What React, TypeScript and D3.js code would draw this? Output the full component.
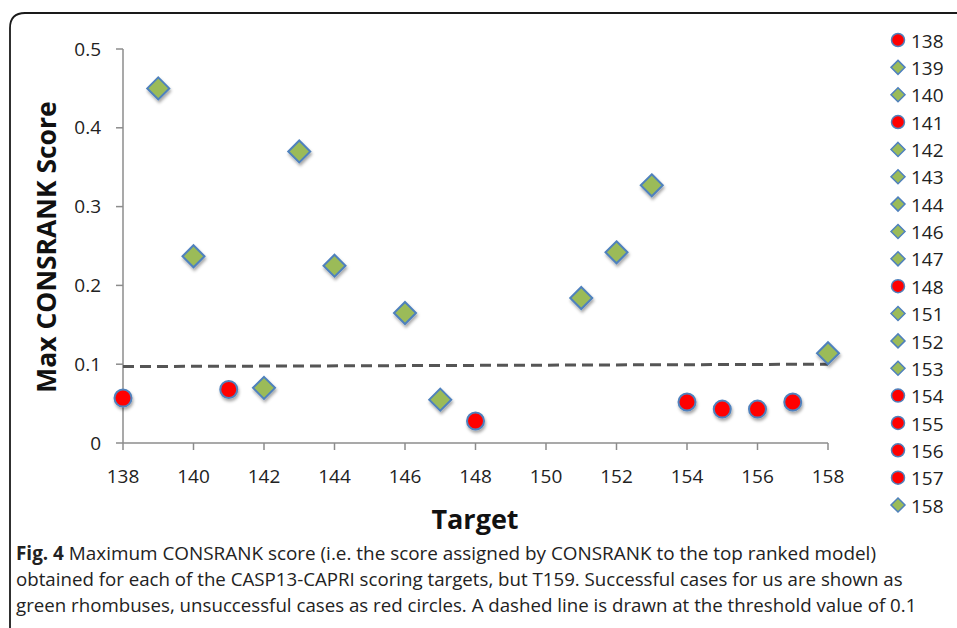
import React from "react";
import * as d3 from "d3";

const targets = [138, 139, 140, 141, 142, 143, 144, 146, 147, 148, 151, 152, 153, 154, 155, 156, 157, 158];
const scores = [0.057, 0.45, 0.237, 0.068, 0.07, 0.37, 0.225, 0.165, 0.055, 0.028, 0.184, 0.242, 0.327, 0.052, 0.043, 0.043, 0.052, 0.114];
const success = [false, true, true, false, true, true, true, true, true, false, true, true, true, false, false, false, false, true];
const thresholdX = [138, 158];
const thresholdY = [0.097, 0.1];
const xTicks = [138, 140, 142, 144, 146, 148, 150, 152, 154, 156, 158];
const yTicks = [0, 0.1, 0.2, 0.3, 0.4, 0.5];
const yTickLabels = ["0", "0.1", "0.2", "0.3", "0.4", "0.5"];
const captionBold = "Fig. 4";
const captionLines = [
  " Maximum CONSRANK score (i.e. the score assigned by CONSRANK to the top ranked model)",
  "obtained for each of the CASP13-CAPRI scoring targets, but T159. Successful cases for us are shown as",
  "green rhombuses, unsuccessful cases as red circles. A dashed line is drawn at the threshold value of 0.1",
];

const W = 957;
const H = 628;
const FONT = "'Open Sans', sans-serif";
const RED = "#ff0000";
const GREEN = "#9bbb59";
const BLUE = "#4f81bd";
const AXIS = "#8c8c8c";

export default function App() {
  const x = d3.scaleLinear().domain([138, 158]).range([123, 828]);
  const y = d3.scaleLinear().domain([0, 0.5]).range([443, 49]);
  const line = d3.line<number>().x((_, i) => x(thresholdX[i])).y((d) => y(d));

  const diamond = (cx: number, cy: number, r: number) =>
    `M${cx},${cy - r}L${cx + r},${cy}L${cx},${cy + r}L${cx - r},${cy}Z`;

  const legendY = d3.scalePoint<number>().domain(targets).range([40, 505]);

  return (
    <svg width={W} height={H} style={{ position: "absolute", left: 0, top: 0 }}>
      <defs>
        <filter id="sh" x="-50%" y="-50%" width="200%" height="200%">
          <feDropShadow dx="1" dy="2.5" stdDeviation="1.5" floodColor="#000" floodOpacity="0.35" />
        </filter>
      </defs>
      <rect x={0} y={0} width={W} height={H} fill="#fff" />
      <path d={`M10,${H + 5}L10,28Q10,13 25,13L${W + 5},13`} fill="none" stroke="#1a1a1a" strokeWidth={1.8} />

      {/* axes */}
      <line x1={x(138)} x2={x(138)} y1={y(0.5)} y2={y(0)} stroke={AXIS} strokeWidth={1.5} />
      <line x1={x(138)} x2={x(158)} y1={y(0)} y2={y(0)} stroke={AXIS} strokeWidth={1.5} />
      {yTicks.map((t, i) => (
        <g key={"y" + t}>
          <line x1={x(138) - 7} x2={x(138)} y1={y(t)} y2={y(t)} stroke={AXIS} strokeWidth={1.5} />
          <text x={101} y={y(t)} dy="0.35em" textAnchor="end" fontFamily={FONT} fontSize={19} fill="#222">
            {yTickLabels[i]}
          </text>
        </g>
      ))}
      {xTicks.map((t) => (
        <g key={"x" + t}>
          <line x1={x(t)} x2={x(t)} y1={y(0)} y2={y(0) + 7} stroke={AXIS} strokeWidth={1.5} />
          <text x={x(t)} y={476} dy="0.35em" textAnchor="middle" fontFamily={FONT} fontSize={19} fill="#222">
            {t}
          </text>
        </g>
      ))}

      {/* threshold */}
      <path d={line(thresholdY) || ""} fill="none" stroke="#555" strokeWidth={3} strokeDasharray="11,6" />

      {/* points */}
      {targets.map((t, i) =>
        success[i] ? (
          <path key={t} d={diamond(x(t), y(scores[i]), 11)} fill={GREEN} stroke={BLUE} strokeWidth={2} filter="url(#sh)" />
        ) : (
          <circle key={t} cx={x(t)} cy={y(scores[i])} r={8.5} fill={RED} stroke={BLUE} strokeWidth={2} filter="url(#sh)" />
        )
      )}

      {/* axis titles */}
      <text
        transform={`translate(47,${247}) rotate(-90)`}
        textAnchor="middle"
        dy="0.35em"
        fontFamily={FONT}
        fontWeight="bold"
        fontSize={26.5}
        fill="#111"
      >
        Max CONSRANK Score
      </text>
      <text x={475} y={520} dy="0.35em" textAnchor="middle" fontFamily={FONT} fontWeight="bold" fontSize={27} fill="#111">
        Target
      </text>

      {/* legend */}
      {targets.map((t, i) => {
        const ly = legendY(t) as number;
        return (
          <g key={"l" + t}>
            {success[i] ? (
              <path d={diamond(898, ly, 7)} fill={GREEN} stroke={BLUE} strokeWidth={1.5} />
            ) : (
              <circle cx={898} cy={ly} r={6.5} fill={RED} stroke={BLUE} strokeWidth={1.5} />
            )}
            <text x={911} y={ly + 1} dy="0.35em" fontFamily={FONT} fontSize={19} fill="#222">
              {t}
            </text>
          </g>
        );
      })}

      {/* caption */}
      <text x={16} y={560} fontFamily={FONT} fontSize={18.9} fill="#222">
        <tspan fontWeight="bold">{captionBold}</tspan>
        <tspan>{captionLines[0]}</tspan>
      </text>
      <text x={16} y={586} fontFamily={FONT} fontSize={18.7} fill="#222">
        {captionLines[1]}
      </text>
      <text x={16} y={612} fontFamily={FONT} fontSize={18.7} fill="#222">
        {captionLines[2]}
      </text>
    </svg>
  );
}
